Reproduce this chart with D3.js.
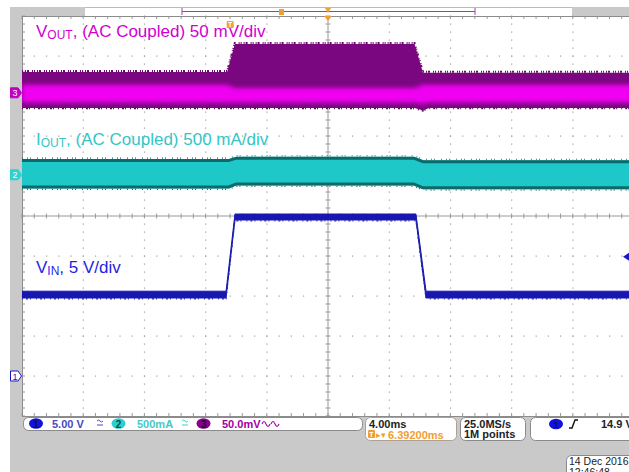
<!DOCTYPE html>
<html><head><meta charset="utf-8">
<script src="https://cdn.jsdelivr.net/npm/d3@7"></script>
<style>body{margin:0;background:#fff}svg{display:block}text{font-family:"Liberation Sans",Arial,sans-serif}</style>
</head><body>
<svg id="c" width="629" height="472"></svg>
<script>
// ---- settings ----
const timePerDiv = 4;          // ms/div
const triggerDelay = 6.392;    // ms (trigger -> center)
const hDivs = 10, vDivs = 10, minorPerDiv = 5;
const ch1Scale = 5, ch1Pos = -4;      // V/div, ground position (div)
const ch2Scale = 500, ch2Pos = 1.03;  // mA/div
const ch3Scale = 50, ch3Pos = 3.08;   // mV/div
const trigLevel = 14.9;               // V

// ---- VIN (channel 1), envelope in V ----
const vinT   = [-13.608, -0.27, 0.31, 12.14, 12.8, 26.392];
const vinMax = [10.6, 10.6, 20.25, 20.25, 10.6, 10.6];
const vinMin = [9.75, 9.75, 19.5, 19.5, 9.75, 9.75];

// ---- IOUT (channel 2), envelope in mA ----
const ioutT   = [-13.608, -0.1, 0.4, 12.0, 12.6, 26.392];
const ioutMax = [196, 196, 227, 227, 183, 183];
const ioutMin = [-171, -171, -133, -133, -181, -181];

// ---- VOUT (channel 3), envelope in mV ----
const voutT       = [-13.608, -0.2, 0.3, 12.05, 12.6, 13.0, 26.392];
const voutMax     = [26, 26, 61, 61, 25, 25, 25];
const voutMin     = [-19, -19, -19, -19, -22, -19, -19];
const voutCoreMax = [10, 10, 6, 6, 10, 10, 10];
const voutCoreMin = [-12, -12, -12, -12, -14, -12, -12];

// ---- labels ----
const chLabels = [
  {main:"V", sub:"OUT", rest:", (AC Coupled) 50 mV/div", color:"#d000d0", y:37},
  {main:"I", sub:"OUT", rest:", (AC Coupled) 500 mA/div", color:"#33c6c6", y:145},
  {main:"V", sub:"IN",  rest:", 5 V/div", color:"#1f1fe6", y:273}
];
const statusCh = [
  {n:"1", text:"5.00 V", fill:"#1010e0", tc:"#4848c0"},
  {n:"2", text:"500mA",  fill:"#28d0d0", tc:"#48c8c8"},
  {n:"3", text:"50.0mV", fill:"#8a008a", tc:"#a000a0"}
];
const horizText = ["4.00ms", "6.39200ms"];
const acqText = ["25.0MS/s", "1M points"];
const trigText = "14.9 V";
const dateText = ["14 Dec  2016", "12:46:48"];

// ---- layout ----
const svg = d3.select("#c");
const L = 22, R = 634, T = 16, B = 416;
const xDiv = d3.scaleLinear([0, hDivs], [L, R]);
const yDiv = d3.scaleLinear([-vDivs/2, vDivs/2], [B, T]);
const xT = d3.scaleLinear([triggerDelay - hDivs/2*timePerDiv, triggerDelay + hDivs/2*timePerDiv], [L, R]);
const y1 = v => yDiv(ch1Pos + v/ch1Scale);
const y2 = v => yDiv(ch2Pos + v/ch2Scale);
const y3 = v => yDiv(ch3Pos + v/ch3Scale);

// background frame
svg.append("rect").attr("x",10).attr("y",7).attr("width",619).attr("height",465).attr("fill","#c9c9c9");
// top record bar
svg.append("rect").attr("x",85).attr("y",7).attr("width",487).attr("height",9).attr("fill","#fff");
svg.append("line").attr("x1",85).attr("x2",572).attr("y1",7.5).attr("y2",7.5).attr("stroke","#bbb");
svg.append("line").attr("x1",182).attr("x2",475).attr("y1",11.5).attr("y2",11.5).attr("stroke","#a040a0").attr("stroke-width",1.2);
[182,475].forEach(x=>svg.append("line").attr("x1",x).attr("x2",x).attr("y1",8).attr("y2",15).attr("stroke","#a040a0"));
svg.append("rect").attr("x",279).attr("y",9).attr("width",5).attr("height",6).attr("fill","#f0a030");

// plot area
svg.append("rect").attr("x",L).attr("y",T).attr("width",R-L).attr("height",B-T).attr("fill","#fff");
const defs = svg.append("defs");
defs.append("clipPath").attr("id","clip").append("rect").attr("x",L).attr("y",T).attr("width",R-L).attr("height",B-T);
defs.append("filter").attr("id","blur").attr("x","-5%").attr("y","-50%").attr("width","110%").attr("height","200%")
  .append("feGaussianBlur").attr("stdDeviation",2.2);

const grid = svg.append("g");
const minorX = d3.range(0, hDivs*minorPerDiv+1).map(i=>i/minorPerDiv);
const minorY = d3.range(0, vDivs*minorPerDiv+1).map(i=>i/minorPerDiv - vDivs/2);
// dotted grid lines
d3.range(1, hDivs).filter(i=>i!==hDivs/2).forEach(i=>{
  grid.selectAll(null).data(minorY).join("rect")
    .attr("x", xDiv(i)-0.5).attr("y", d=>yDiv(d)-0.5).attr("width",1.2).attr("height",1.2).attr("fill","#a0a0a0");
});
d3.range(-vDivs/2+1, vDivs/2).filter(i=>i!==0).forEach(i=>{
  grid.selectAll(null).data(minorX).join("rect")
    .attr("x", d=>xDiv(d)-0.5).attr("y", yDiv(i)-0.5).attr("width",1.2).attr("height",1.2).attr("fill","#a0a0a0");
});
// center axes with ticks
const axc = "#9a9a9a";
grid.append("line").attr("x1",L).attr("x2",R).attr("y1",yDiv(0)).attr("y2",yDiv(0)).attr("stroke",axc);
grid.append("line").attr("x1",xDiv(5)).attr("x2",xDiv(5)).attr("y1",T).attr("y2",B).attr("stroke",axc);
grid.selectAll(null).data(minorX).join("line").attr("x1",d=>xDiv(d)).attr("x2",d=>xDiv(d))
  .attr("y1",yDiv(0)-2.5).attr("y2",yDiv(0)+2.5).attr("stroke",axc);
grid.selectAll(null).data(minorY).join("line").attr("y1",d=>yDiv(d)).attr("y2",d=>yDiv(d))
  .attr("x1",xDiv(5)-2.5).attr("x2",xDiv(5)+2.5).attr("stroke",axc);
// border ticks
grid.selectAll(null).data(minorX).join("line").attr("x1",d=>xDiv(d)).attr("x2",d=>xDiv(d)).attr("y1",B).attr("y2",B-3).attr("stroke",axc);
grid.selectAll(null).data(minorX).join("line").attr("x1",d=>xDiv(d)).attr("x2",d=>xDiv(d)).attr("y1",T).attr("y2",T+3).attr("stroke",axc);
grid.selectAll(null).data(minorY).join("line").attr("y1",d=>yDiv(d)).attr("y2",d=>yDiv(d)).attr("x1",L).attr("x2",L+3).attr("stroke",axc);
grid.append("rect").attr("x",L+0.5).attr("y",T+0.5).attr("width",R-L).attr("height",B-T).attr("fill","none").attr("stroke","#8c8c8c");

// labels
chLabels.forEach(l=>{
  const t = svg.append("text").attr("x",36).attr("y",l.y).attr("fill",l.color).attr("font-size",17);
  t.append("tspan").text(l.main);
  t.append("tspan").attr("font-size",12).attr("dy",1.5).text(l.sub);
  t.append("tspan").attr("dy",-1.5).text(l.rest);
});

const traces = svg.append("g").attr("clip-path","url(#clip)");
const idx = a => a.map((_,i)=>i);

// VOUT
const aV3 = (tA, hi, lo) => d3.area().x(i=>xT(tA[i])).y0(i=>y3(lo[i])).y1(i=>y3(hi[i]));
traces.append("path").attr("d", aV3(voutT, voutMax, voutMin)(idx(voutT))).attr("fill","#7a0780");
traces.append("path").attr("d", aV3(voutT, voutCoreMax, voutCoreMin)(idx(voutT))).attr("fill","#f000f0").attr("filter","url(#blur)");
traces.append("path").attr("d", d3.line().x(i=>xT(voutT[i])).y(i=>y3(voutMax[i])-1)(idx(voutT)))
  .attr("fill","none").attr("stroke","#6a0a6c").attr("stroke-width",2).attr("stroke-dasharray","1 2 1 1 2 3 1 1");
traces.append("path").attr("d", d3.line().x(i=>xT(voutT[i])).y(i=>y3(voutMin[i])+0.5)(idx(voutT)))
  .attr("fill","none").attr("stroke","#5a0a5c").attr("stroke-width",1.5).attr("stroke-dasharray","1 3 2 1 1 4");

// IOUT
const aI = d3.area().x(i=>xT(ioutT[i])).y0(i=>y2(ioutMin[i])).y1(i=>y2(ioutMax[i]));
traces.append("path").attr("d", aI(idx(ioutT))).attr("fill","#1fc8c8");
[[ioutMax, 1.5],[ioutMin,-1.5]].forEach(([arr,off])=>{
  traces.append("path").attr("d", d3.line().x(i=>xT(ioutT[i])).y(i=>y2(arr[i])+off)(idx(ioutT)))
    .attr("fill","none").attr("stroke","#0e6a6a").attr("stroke-width",3);
  traces.append("path").attr("d", d3.line().x(i=>xT(ioutT[i])).y(i=>y2(arr[i])-off*0.6)(idx(ioutT)))
    .attr("fill","none").attr("stroke","#1b6f6f").attr("stroke-width",1.2).attr("stroke-dasharray","1 4 1 2 1 6");
});

// VIN
const aVin = d3.area().x(i=>xT(vinT[i])).y0(i=>y1(vinMin[i])).y1(i=>y1(vinMax[i]));
traces.append("path").attr("d", aVin(idx(vinT))).attr("fill","#1818b0").attr("stroke","#1818b0").attr("stroke-width",1);
traces.append("path").attr("d", d3.line().x(i=>xT(vinT[i])).y(i=>y1(vinMin[i])+0.8)(idx(vinT)))
  .attr("fill","none").attr("stroke","#2828a8").attr("stroke-width",1.2).attr("stroke-dasharray","1 3 2 2 1 5");

// trigger markers
const tx = xT(0);
svg.append("rect").attr("x",tx-3.5).attr("y",21).attr("width",7).attr("height",7).attr("rx",1).attr("fill","#f0a030");
svg.append("text").attr("x",tx).attr("y",27).attr("text-anchor","middle").attr("font-size",7).attr("font-weight","bold").attr("fill","#fff").text("T");
svg.append("path").attr("d",`M${xDiv(5)-4},${T} L${xDiv(5)+4},${T} L${xDiv(5)},${T+5}Z`).attr("fill","#f0a030");
svg.append("path").attr("d",`M${xDiv(5)-3},8 L${xDiv(5)+3},8 L${xDiv(5)},13Z`).attr("fill","#f0a030");
// trigger level marker (right)
const tly = y1(trigLevel);
svg.append("path").attr("d",`M623,${tly} L629,${tly-4} L629,${tly+4}Z`).attr("fill","#1818c8");

// channel ground markers (left)
[[y3(0),"3","#c000c0","#fff",true],[y2(0),"2","#30d0d0","#fff",true],[y1(0),"1","#fff","#1818c0",false]].forEach(([y,n,f,tc,filled])=>{
  svg.append("path").attr("d",`M10.5,${y-5} L18,${y-5} L21.5,${y} L18,${y+5} L10.5,${y+5}Z`)
    .attr("fill",f).attr("stroke",filled?f:"#1818c0").attr("stroke-width",1);
  svg.append("text").attr("x",15).attr("y",y+3.5).attr("text-anchor","middle").attr("font-size",9).attr("fill",tc).text(n);
});

// ---- status bar ----
const box = (x,y,w,h,stroke)=>svg.append("rect").attr("x",x+0.5).attr("y",y+0.5).attr("width",w).attr("height",h).attr("rx",5)
  .attr("fill","#fff").attr("stroke",stroke||"#8a8a8a");
box(23,417,339,13);
const chX = [36, 118.5, 203.5], txX = [52, 137, 222];
statusCh.forEach((c,i)=>{
  svg.append("ellipse").attr("cx",chX[i]).attr("cy",423.5).attr("rx",7).attr("ry",5.2).attr("fill",c.fill);
  svg.append("text").attr("x",chX[i]).attr("y",427.5).attr("text-anchor","middle").attr("font-size",10).attr("font-weight","bold")
    .attr("fill", i===1?"#104848":"#101040").text(c.n);
  svg.append("text").attr("x",txX[i]).attr("y",428).attr("font-size",11).attr("font-weight","bold").attr("fill",c.tc).text(c.text);
});
// bandwidth / coupling icons
[[100,"#4848c0"],[185,"#48c8c8"]].forEach(([x,c])=>{
  svg.append("path").attr("d",`M${x-3},421 q1.5,-2 3,0 t3,0 M${x-3},425 l6,0`).attr("fill","none").attr("stroke",c).attr("stroke-width",1);
});
svg.append("path").attr("d","M262,424 q2,-5 4,0 t4,0 M271,424 q2,-5 4,0 t4,0").attr("fill","none").attr("stroke","#a000a0").attr("stroke-width",1.1);

box(365,417,91,23,"#b0a090");
svg.append("text").attr("x",369).attr("y",427.5).attr("font-size",11).attr("font-weight","bold").attr("fill","#222").text(horizText[0]);
svg.append("rect").attr("x",368).attr("y",430).attr("width",7).attr("height",8).attr("rx",1).attr("fill","#f0a030");
svg.append("text").attr("x",371.5).attr("y",437).attr("text-anchor","middle").attr("font-size",7).attr("font-weight","bold").attr("fill","#fff").text("T");
svg.append("text").attr("x",376).attr("y",438).attr("font-size",9).attr("fill","#f0a030").text("▸▾");
svg.append("text").attr("x",388).attr("y",438.5).attr("font-size",11).attr("font-weight","bold").attr("fill","#f0a030").text(horizText[1]);

box(460,417,65,23);
acqText.forEach((t,i)=>svg.append("text").attr("x",464).attr("y",427.5+i*10.5).attr("font-size",11).attr("font-weight","bold").attr("fill","#222").text(t));

box(530,417,110,23);
svg.append("ellipse").attr("cx",556).attr("cy",424).attr("rx",7).attr("ry",5.2).attr("fill","#1010e0");
svg.append("text").attr("x",556).attr("y",427.5).attr("text-anchor","middle").attr("font-size",9).attr("font-weight","bold").attr("fill","#101040").text("1");
svg.append("path").attr("d","M569,428 L572,428 L575,420 L578,420").attr("fill","none").attr("stroke","#111").attr("stroke-width",1.4);
svg.append("text").attr("x",601).attr("y",428).attr("font-size",11).attr("font-weight","bold").attr("fill","#222").text(trigText);

box(566,455,80,30);
dateText.forEach((t,i)=>svg.append("text").attr("x",569).attr("y",465+i*10.5).attr("font-size",10.5).attr("fill","#222").text(t));
</script>
</body></html>
